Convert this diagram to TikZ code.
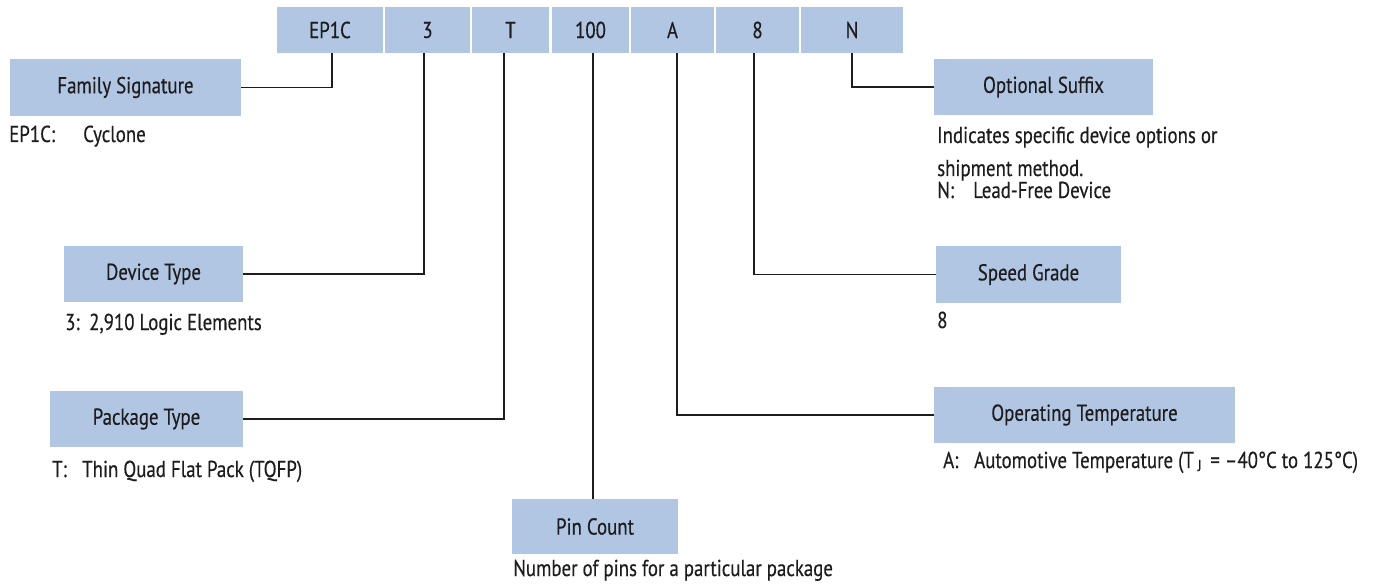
\documentclass[tikz,border=0pt]{standalone}
\usepackage{fontspec}
\setmainfont{PT Sans}[FakeStretch=0.82,FakeBold=0.4]
\definecolor{boxblue}{RGB}{176,198,226}
\definecolor{ink}{RGB}{30,28,30}
\begin{document}
\begin{tikzpicture}[x=1pt,y=-1pt,
  every node/.style={font=\fontsize{23}{27}\selectfont, text=ink},
  cell/.style={fill=boxblue, inner sep=0pt, minimum height=46pt},
  field/.style={fill=boxblue, inner sep=0pt},
  desc/.style={anchor=base west, inner sep=0pt},
  link/.style={draw=ink, line width=1.3pt}]
\useasboundingbox (0,0) rectangle (1382,588);
% top code cells
\node[cell, minimum width=106pt] (ep)  at (330,30)   {EP1C};
\node[cell, minimum width=85pt]  (dt)  at (427.5,30) {3};
\node[cell, minimum width=77pt]  (pt)  at (510.5,30) {T};
\node[cell, minimum width=77pt]  (pc)  at (590.5,30) {100};
\node[cell, minimum width=83pt]  (ot)  at (672.5,30) {A};
\node[cell, minimum width=83pt]  (sg)  at (757.5,30) {8};
\node[cell, minimum width=102pt] (os)  at (852,30)   {N};
% field boxes
\node[field, minimum width=231pt, minimum height=57pt] (fam) at (125.5,87.5) {Family Signature};
\node[field, minimum width=179pt, minimum height=56pt] (dev) at (153.5,274) {Device Type};
\node[field, minimum width=193pt, minimum height=56pt] (pkg) at (146.5,419) {Package Type};
\node[field, minimum width=166pt, minimum height=55pt] (pin) at (595,526.5) {Pin Count};
\node[field, minimum width=219pt, minimum height=56pt] (opt) at (1043.5,87) {Optional Suffix};
\node[field, minimum width=185pt, minimum height=57pt] (spd) at (1028.5,274.5) {Speed Grade};
\node[field, minimum width=301pt, minimum height=56pt] (tmp) at (1084.5,415) {Operating Temperature};
% descriptions
\node[desc] (d1a) at (9,142) {EP1C:};
\node[desc] (d1b) at (83,142) {Cyclone};
\node[desc] (d2a) at (65,330) {3:};
\node[desc] (d2b) at (89,330) {2,910 Logic Elements};
\node[desc] (d3a) at (52,477) {T:};
\node[desc] (d3b) at (82,477) {Thin Quad Flat Pack (TQFP)};
\node[desc] (d4) at (513,576) {Number of pins for a particular package};
\node[desc] (d5a) at (937,143) {Indicates specific device options or};
\node[desc] (d5b) at (937,176) {shipment method.};
\node[desc] (d5c) at (937,198) {N:};
\node[desc] (d5d) at (973,198) {Lead-Free Device};
\node[desc] (d6) at (937,328) {8};
\node[desc] (d7a) at (943,468) {A:};
\node[desc] (d7b) at (974,468) {Automotive Temperature (T\,\raisebox{-3pt}{\fontsize{16}{16}\selectfont J}\, = –40°C to 125°C)};
% connectors
\coordinate (pcx) at ([xshift=2.5pt]pc.south);
\draw[link] ([xshift=2pt]ep.south) |- (fam.east);
\draw[link] ([xshift=-3.5pt]dt.south) |- (dev.east);
\draw[link] ([xshift=-6.5pt]pt.south) |- (pkg.east);
\draw[link] (pcx) -- (pcx |- pin.north);
\draw[link] ([xshift=4.5pt]ot.south) |- (tmp.west);
\draw[link] ([xshift=-3.5pt]sg.south) |- (spd.west);
\draw[link] (os.south) |- (opt.west);
\end{tikzpicture}
\end{document}
